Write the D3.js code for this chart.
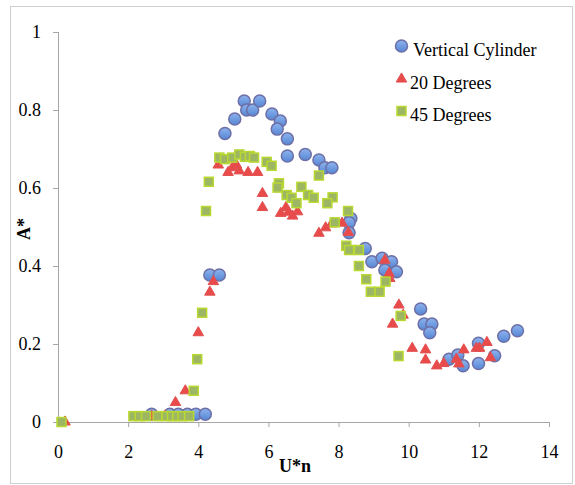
<!DOCTYPE html>
<html>
<head>
<meta charset="utf-8">
<script src="https://cdnjs.cloudflare.com/ajax/libs/d3/7.8.5/d3.min.js"></script>
<style>
  body { margin: 0; background: #fff; }
  text { font-family: "Liberation Serif", "Times New Roman", serif; fill: #000; }
</style>
</head>
<body>
<svg id="chart" width="575" height="485"></svg>
<script>
// Vertical Cylinder
var cylX = [2.67, 3.19, 3.43, 3.69, 3.93, 4.2, 4.33, 4.6,
	4.76, 5.04, 5.31, 5.38, 5.55, 5.75, 6.10, 6.34, 6.25, 6.54, 6.54, 7.05, 7.44, 7.61, 7.81,
	8.35, 8.30, 8.30, 8.76, 8.95, 9.24, 9.51, 9.32, 9.65, 10.34, 10.44, 10.66,
	10.6, 11.15, 11.4, 11.55, 11.99, 11.99, 12.45, 12.71, 13.1];
var cylY = [0.02, 0.02, 0.02, 0.02, 0.02, 0.02, 0.377, 0.377,
	0.74, 0.777, 0.823, 0.80, 0.80, 0.823, 0.79, 0.772, 0.751, 0.726, 0.682, 0.686, 0.672, 0.652, 0.652,
	0.522, 0.511, 0.485, 0.445, 0.411, 0.42, 0.411, 0.39, 0.385, 0.29, 0.251, 0.251,
	0.229, 0.161, 0.172, 0.144, 0.202, 0.150, 0.170, 0.22, 0.234];

// 20 Degrees
var deg20X = [0.2, 2.67, 3.05, 3.35, 3.63, 4.0, 4.33, 4.43,
	4.57, 4.85, 4.97, 5.09, 5.17, 5.42, 5.69, 5.83, 5.83, 6.35, 6.5, 6.57, 6.69, 6.83,
	7.44, 7.63, 7.8, 8.1, 8.28, 9.32, 9.44, 9.46, 9.72, 9.84, 9.54,
	10.1, 10.48, 10.48, 10.8, 11.0, 11.36, 11.43, 11.57, 11.93, 12.02, 12.23, 12.33];
var deg20Y = [0, 0.015, 0.015, 0.05, 0.08, 0.229, 0.333, 0.36,
	0.659, 0.64, 0.652, 0.659, 0.644, 0.64, 0.64, 0.586, 0.55, 0.535, 0.55, 0.538, 0.528, 0.539,
	0.484, 0.498, 0.508, 0.51, 0.486, 0.415, 0.381, 0.368, 0.30, 0.274, 0.251,
	0.189, 0.185, 0.159, 0.144, 0.15, 0.161, 0.149, 0.185, 0.189, 0.189, 0.204, 0.165];

// 45 Degrees
var deg45X = [0.1, 2.15, 2.33, 2.51, 2.84, 3.1, 3.25, 3.4, 3.55, 3.74, 3.87, 3.97, 4.11,
	4.22, 4.3, 4.6, 4.76, 4.97, 5.17, 5.33, 5.47, 5.59, 5.95, 6.09, 6.3, 6.26, 6.52, 6.66, 6.8,
	6.94, 7.13, 7.29, 7.44, 7.83, 7.68, 8.27, 7.89, 8.22, 8.3, 8.58, 8.58, 8.79, 8.92, 9.17,
	9.34, 9.77, 9.71];
var deg45Y = [0, 0.015, 0.015, 0.015, 0.015, 0.015, 0.015, 0.015, 0.015, 0.015, 0.08, 0.161, 0.28,
	0.541, 0.616, 0.678, 0.674, 0.678, 0.686, 0.68, 0.682, 0.678, 0.667, 0.657, 0.612, 0.601, 0.582, 0.575, 0.561,
	0.603, 0.582, 0.575, 0.632, 0.576, 0.561, 0.541, 0.512, 0.452, 0.441, 0.441, 0.4, 0.366, 0.334, 0.334,
	0.36, 0.272, 0.169];

var xTicks = [0, 2, 4, 6, 8, 10, 12, 14];
var yTicks = [0, 0.2, 0.4, 0.6, 0.8, 1];
var seriesNames = ["Vertical Cylinder", "20 Degrees", "45 Degrees"];

var svg = d3.select("#chart");

// outer frame
svg.append("rect")
	.attr("x", 10.5).attr("y", 6.5)
	.attr("width", 562).attr("height", 477)
	.attr("fill", "none").attr("stroke", "#cfcfcf");

var defs = svg.append("defs");
var grad = defs.append("linearGradient").attr("id", "blueball")
	.attr("x1", 0).attr("y1", 0).attr("x2", 0).attr("y2", 1);
grad.append("stop").attr("offset", "0%").attr("stop-color", "#8db4ee");
grad.append("stop").attr("offset", "100%").attr("stop-color", "#5686d4");

var x = d3.scaleLinear().domain([0, 14]).range([58, 549]);
var y = d3.scaleLinear().domain([0, 1]).range([422, 32]);

var xAxis = svg.append("g")
	.attr("transform", "translate(0,422)")
	.call(d3.axisBottom(x).tickValues(xTicks).tickSize(5).tickPadding(18).tickFormat(d3.format("d")));
var yAxis = svg.append("g")
	.attr("transform", "translate(58,0)")
	.call(d3.axisLeft(y).tickValues(yTicks).tickSize(5).tickPadding(12).tickFormat(function(d){ return d === 0 || d === 1 ? d : d3.format(".1f")(d); }));

[xAxis, yAxis].forEach(function(ax) {
	ax.select(".domain").attr("stroke", "#a6a6a6");
	ax.selectAll(".tick line").attr("stroke", "#a6a6a6");
	ax.selectAll(".tick text")
		.attr("font-family", "Liberation Serif")
		.attr("font-size", 18)
		.attr("fill", "#000");
});
xAxis.select(".domain").attr("d", "M58,0.5H549.5");
yAxis.select(".domain").attr("d", "M0.5,422V32");

// axis titles
svg.append("text")
	.attr("x", 295).attr("y", 472)
	.attr("text-anchor", "middle")
	.attr("font-size", 18).attr("font-weight", "bold")
	.text("U*n");
svg.append("text")
	.attr("transform", "translate(30,229) rotate(-90)")
	.attr("text-anchor", "middle")
	.attr("font-size", 18).attr("font-weight", "bold")
	.text("A*");

var plot = svg.append("g");

function pairs(xs, ys) {
	return xs.map(function(v, i){ return [v, ys[i]]; });
}

plot.selectAll("circle.cyl")
	.data(pairs(cylX, cylY))
	.enter().append("circle")
	.attr("class", "cyl")
	.attr("cx", function(d){ return x(d[0]); })
	.attr("cy", function(d){ return y(d[1]); })
	.attr("r", 6)
	.attr("fill", "url(#blueball)")
	.attr("stroke", "#6d6fa6")
	.attr("stroke-width", 1.5);

var tri = d3.symbol().type(d3.symbolTriangle).size(48);
plot.selectAll("path.d20")
	.data(pairs(deg20X, deg20Y))
	.enter().append("path")
	.attr("class", "d20")
	.attr("d", tri)
	.attr("transform", function(d){ return "translate(" + x(d[0]) + "," + y(d[1]) + ")"; })
	.attr("fill", "#e94b4b")
	.attr("stroke", "#e25050")
	.attr("stroke-width", 1);

plot.selectAll("rect.d45")
	.data(pairs(deg45X, deg45Y))
	.enter().append("rect")
	.attr("class", "d45")
	.attr("x", function(d){ return x(d[0]) - 4.5; })
	.attr("y", function(d){ return y(d[1]) - 4.5; })
	.attr("width", 9).attr("height", 9)
	.attr("fill", "#9db664")
	.attr("stroke", "#b9d830")
	.attr("stroke-width", 1.5);

// legend
var legend = svg.append("g");
var legendY = [46, 79, 111];
seriesNames.forEach(function(name, i) {
	var ly = legendY[i];
	if (i === 0) {
		legend.append("circle").attr("cx", 401.5).attr("cy", ly).attr("r", 6)
			.attr("fill", "url(#blueball)").attr("stroke", "#6d6fa6").attr("stroke-width", 1.5);
	} else if (i === 1) {
		legend.append("path").attr("d", tri).attr("transform", "translate(401.5," + ly + ")")
			.attr("fill", "#e94b4b").attr("stroke", "#e25050");
	} else {
		legend.append("rect").attr("x", 397).attr("y", ly - 4.5).attr("width", 9).attr("height", 9)
			.attr("fill", "#9db664").attr("stroke", "#b9d830").attr("stroke-width", 1.5);
	}
	legend.append("text")
		.attr("x", i === 0 ? 413 : 410).attr("y", ly + 9.5)
		.attr("font-size", 18)
		.text(name);
});
</script>
</body>
</html>
